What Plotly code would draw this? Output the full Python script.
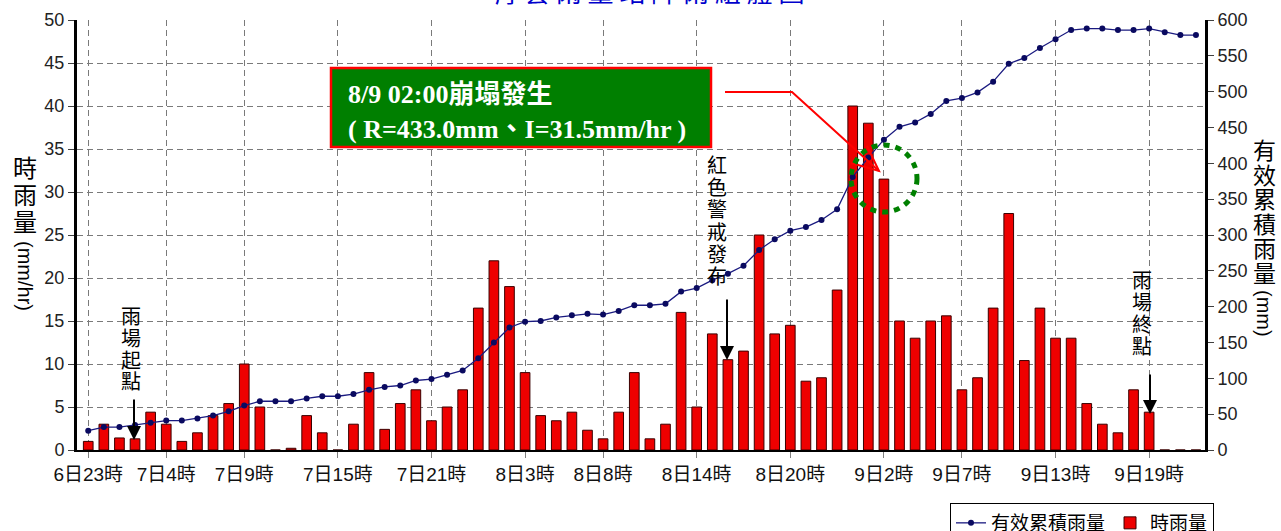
import plotly.graph_objects as go

# ---------------- data ----------------
hourly_rain = [1.0, 3.0, 1.4, 1.3, 4.4, 3.0, 1.0, 2.0, 4.0, 5.4, 10.0, 5.0,
               0.0, 0.2, 4.0, 2.0, 0.0, 3.0, 9.0, 2.4, 5.4, 7.0, 3.4, 5.0,
               7.0, 16.5, 22.0, 19.0, 9.0, 4.0, 3.4, 4.4, 2.3, 1.3, 4.4, 9.0,
               1.3, 3.0, 16.0, 5.0, 13.5, 10.5, 11.5, 25.0, 13.5, 14.5, 8.0, 8.4,
               18.6, 40.0, 38.0, 31.5, 15.0, 13.0, 15.0, 15.6, 7.0, 8.4, 16.5, 27.5,
               10.4, 16.5, 13.0, 13.0, 5.4, 3.0, 2.0, 7.0, 4.4, 0.0, 0.0, 0.0]
effective_cum = [27, 32, 32, 35, 38, 41, 41, 44, 48, 54, 62, 68,
                 68, 68, 72, 75, 75, 78, 84, 88, 90, 97, 99, 105,
                 111, 128, 150, 171, 179, 180, 185, 188, 190, 189, 194, 202,
                 202, 204, 221, 226, 237, 246, 257, 279, 294, 306, 311, 321,
                 336, 381, 408, 433, 451, 457, 469, 487, 491, 499, 514, 539,
                 547, 561, 573, 586, 588, 588, 586, 586, 588, 583, 579, 579]
hour_index = list(range(len(hourly_rain)))
tick_positions = [0, 5, 10, 16, 22, 28, 33, 39, 45, 51, 56, 62, 68]
tick_labels = ["6日23時", "7日4時", "7日9時", "7日15時", "7日21時", "8日3時", "8日8時",
               "8日14時", "8日20時", "9日2時", "9日7時", "9日13時", "9日19時"]

# ---------------- layout geometry ----------------
W, H = 1281, 531
L, R, T, B = 77, 1205, 20, 450
PW, PH = R - L, B - T


def px(x):
    return (x - L) / PW


def py(y):
    return (B - y) / PH


CJK = "Noto Sans CJK TC"
SANS = "Liberation Sans, Noto Sans CJK TC"
SERIF = "Liberation Serif, Noto Sans CJK TC"

fig = go.Figure()
fig.add_trace(go.Bar(
    x=hour_index, y=hourly_rain, name="時雨量", width=0.62,
    marker=dict(color="#ee0000", line=dict(color="#3a0000", width=1)),
    legendrank=2,
))
fig.add_trace(go.Scatter(
    x=hour_index, y=effective_cum, name="有效累積雨量", yaxis="y2",
    mode="lines+markers",
    line=dict(color="#1a1a80", width=1.3),
    marker=dict(color="#0a0a60", size=6),
    legendrank=1,
))

grid = dict(showgrid=True, gridcolor="#7a7a7a", gridwidth=1.3, griddash="6px,4px")

fig.update_layout(
    width=W, height=H,
    margin=dict(l=L, r=W - R, t=T, b=H - B, autoexpand=False),
    paper_bgcolor="white", plot_bgcolor="white",
    showlegend=True,
    legend=dict(orientation="h", x=px(950), y=py(503), xanchor="left", yanchor="top",
                bgcolor="white", bordercolor="black", borderwidth=1,
                font=dict(family=CJK, size=19, color="black"),
                itemwidth=30, tracegroupgap=0),
    xaxis=dict(range=[-0.72, 71.58], tickmode="array", tickvals=tick_positions,
               ticktext=tick_labels, ticks="outside", ticklen=6, tickcolor="#808080",
               showline=True, linecolor="black", linewidth=2, zeroline=False,
               tickfont=dict(family=SANS, size=19, color="#111111"), **grid),
    yaxis=dict(range=[0, 50], dtick=5, ticks="outside", ticklen=6, tickcolor="#404040",
               showline=True, linecolor="black", linewidth=3, zeroline=False,
               tickfont=dict(family=SANS, size=18, color="#222222"), **grid),
    yaxis2=dict(range=[0, 600], dtick=50, overlaying="y", side="right",
                ticks="outside", ticklen=6, tickcolor="#404040",
                showline=True, linecolor="black", linewidth=3, showgrid=False, zeroline=False,
                tickfont=dict(family=SANS, size=18, color="#222222")),
)

ann = []
shapes = []

# clipped title at the very top
ann.append(dict(text="青 雲 雨 量 站 降 雨 組 體 圖", xref="paper", yref="paper",
                x=px(648), y=py(-9), xanchor="center", yanchor="middle", showarrow=False,
                font=dict(family=CJK, size=26, color="#0000cc")))


def vtext(chars, xc, ytop, pitch, size, color="black"):
    for k, ch in enumerate(chars):
        ann.append(dict(text=ch, xref="paper", yref="paper", x=px(xc),
                        y=py(ytop + pitch * (k + 0.5)), xanchor="center", yanchor="middle",
                        showarrow=False, font=dict(family=CJK, size=size, color=color)))


def down_arrow(x, y0, y1):
    ann.append(dict(text="", xref="paper", yref="paper", x=px(x), y=py(y1),
                    ax=0, ay=-(y1 - y0), showarrow=True, arrowhead=2, arrowsize=1.4,
                    arrowwidth=2, arrowcolor="black", standoff=0))


# axis titles
vtext("時雨量", 25, 153, 27, 24)
ann.append(dict(text="(mm/hr)", xref="paper", yref="paper", x=px(25), y=py(276),
                textangle=90, showarrow=False, xanchor="center", yanchor="middle",
                font=dict(family=SANS, size=20, color="black")))
vtext("有效累積雨量", 1264, 137, 24.5, 23)
ann.append(dict(text="(mm)", xref="paper", yref="paper", x=px(1264), y=py(313),
                textangle=90, showarrow=False, xanchor="center", yanchor="middle",
                font=dict(family=SANS, size=20, color="black")))

# event labels
vtext("雨場起點", 131, 305, 21.7, 20)
down_arrow(134, 398, 440)
vtext("紅色警戒發布", 717, 153, 22.3, 20)
down_arrow(727, 298, 360)
vtext("雨場終點", 1142, 268, 22, 20)
down_arrow(1150, 373, 414)

# green information box
shapes.append(dict(type="rect", xref="paper", yref="paper",
                   x0=px(331), x1=px(711), y0=py(147), y1=py(68),
                   fillcolor="#007f00", line=dict(color="#ff0000", width=2.5), layer="above"))
ann.append(dict(text="<b>8/9 02:00崩塌發生</b>", xref="paper", yref="paper",
                x=px(346), y=py(94), xanchor="left", yanchor="middle", showarrow=False,
                font=dict(family=SERIF, size=26, color="white")))
ann.append(dict(text="<b>( R=433.0mm、I=31.5mm/hr )</b>", xref="paper", yref="paper",
                x=px(346), y=py(129), xanchor="left", yanchor="middle", showarrow=False,
                font=dict(family=SERIF, size=26, color="white")))


def ppath(points):
    return "M " + " L ".join(f"{px(a):.5f},{py(b):.5f}" for a, b in points)


# red leader line with open arrowhead
shapes.append(dict(type="path", xref="paper", yref="paper",
                   path=ppath([(725, 92), (792, 92), (879, 171)]),
                   line=dict(color="#ff0000", width=2), layer="above"))
shapes.append(dict(type="path", xref="paper", yref="paper",
                   path=ppath([(851, 163), (879, 171), (867, 146)]),
                   line=dict(color="#ff0000", width=2), layer="above"))

# green dotted circle
shapes.append(dict(type="circle", xref="paper", yref="paper",
                   x0=px(851), x1=px(917), y0=py(212), y1=py(145),
                   line=dict(color="#008000", width=5, dash="6px,6px"), layer="above"))

fig.update_layout(annotations=ann, shapes=shapes)
fig.write_html("out.html", config={"displayModeBar": False},
               post_script="document.body.style.margin='0';document.body.style.overflow='hidden';")
